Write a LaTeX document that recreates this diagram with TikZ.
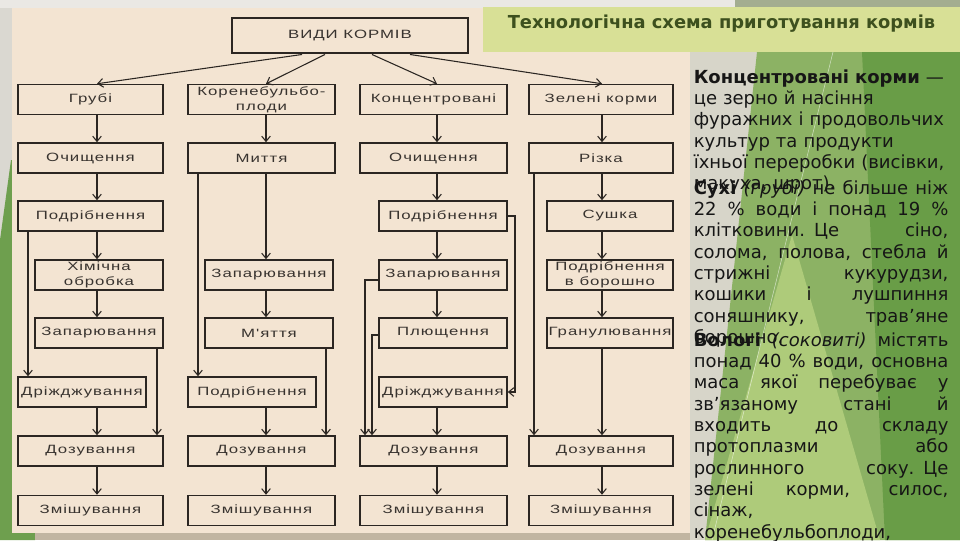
\documentclass[tikz,border=0pt]{standalone}
\usepackage{fontspec}
\usetikzlibrary{arrows.meta}
\newfontfamily\boxfont[FakeStretch=1.4,LetterSpace=8]{Liberation Sans}
\newfontfamily\txtfont{DejaVu Sans}
\definecolor{pagebg}{HTML}{EAE8E4}
\definecolor{panelbg}{HTML}{F3E4D2}
\definecolor{linec}{HTML}{2B2622}
\definecolor{boxtxt}{HTML}{38332F}
\definecolor{barbg}{HTML}{D8E096}
\definecolor{titlec}{HTML}{3D501E}
\definecolor{bandc}{HTML}{C1B5A1}
\definecolor{paleR}{HTML}{D7D5C9}
\definecolor{greenM}{HTML}{8CB264}
\definecolor{greenL}{HTML}{AECB7A}
\definecolor{greenD}{HTML}{699D47}
\definecolor{leftG}{HTML}{6E9F4E}
\definecolor{leftgrey}{HTML}{DAD8D1}
\definecolor{topgreen}{HTML}{A3AD90}
\definecolor{txtc}{HTML}{161616}
\newcommand\jl[1]{{\spaceskip=0.318em plus 1fil\relax\makebox[191pt][s]{#1}}\\}
\begin{document}
\begin{tikzpicture}[x=0.75pt,y=-0.75pt,
  box/.style={draw=linec,line width=1.1pt,fill=panelbg,inner sep=0pt,minimum height=22.5pt,align=center,text=boxtxt,font=\boxfont\fontsize{9}{11}\selectfont},
  wd/.style={minimum width=#1*0.75pt},
  conn/.style={draw=linec,line width=0.8pt,-{Straight Barb[length=4pt,width=6.5pt,line width=0.8pt]}},
  para/.style={anchor=base west,inner sep=0pt,text width=191pt,align=left,text=txtc,font=\txtfont\fontsize{13.5}{16}\selectfont}]
\useasboundingbox (0,0) rectangle (960,540);
% background
\fill[pagebg] (0,0) rectangle (960,540);
\fill[leftgrey] (0,8) rectangle (12,540);
\fill[leftG] (11,160) -- (12,160) -- (12,533) -- (35,533) -- (35,540) -- (0,540) -- (0,240) -- cycle;
\fill[topgreen] (735,0) rectangle (960,8);
\fill[bandc] (35,533) rectangle (690,540);
\fill[panelbg] (12,8) rectangle (690,533);
\fill[paleR] (690,8) rectangle (960,540);
\fill[greenM] (757,52) -- (960,52) -- (960,540) -- (705,540) -- cycle;
\fill[greenL] (792,235) -- (880,540) -- (705,540) -- cycle;
\fill[greenD] (862,52) -- (960,52) -- (960,540) -- (885,540) -- cycle;
\draw[white,opacity=0.6,line width=0.4pt] (833,52) -- (712,540);
\fill[barbg] (483,7) rectangle (960,52);
\node[anchor=base,inner sep=0pt,text=titlec,font=\txtfont\bfseries\fontsize{13.4}{16}\selectfont] (ttl) at (721.5,28.5) {Технологічна схема приготування кормів};
% columns
\coordinate (c1) at (97,0);
\coordinate (c2) at (266,0);
\coordinate (c3) at (437,0);
\coordinate (c4) at (602,0);
\coordinate (x1a) at (28,0);
\coordinate (x1b) at (157,0);
\coordinate (x2a) at (198,0);
\coordinate (x2b) at (326,0);
\coordinate (x3a) at (365,0);
\coordinate (x3b) at (372,0);
\coordinate (x3c) at (515,0);
\coordinate (x4a) at (534,0);
% boxes
\node[box,wd=236,minimum height=26.25pt,line width=2.2pt] (top) at (350,35.5) {ВИДИ КОРМІВ};
\node[box,wd=145] (g1) at (90.5,99.5) {Грубі};
\node[box,wd=147] (k2) at (261.5,99.5) {Коренебульбо-\\плоди};
\node[box,wd=147] (k3) at (433.5,99.5) {Концентровані};
\node[box,wd=144] (k4) at (601,99.5) {Зелені корми};
\node[box,wd=145] (o1) at (90.5,158) {Очищення};
\node[box,wd=147] (m2) at (261.5,158) {Миття};
\node[box,wd=147] (o3) at (433.5,158) {Очищення};
\node[box,wd=144] (r4) at (601,158) {Різка};
\node[box,wd=145] (p1) at (90.5,216) {Подрібнення};
\node[box,wd=128] (p3) at (443,216) {Подрібнення};
\node[box,wd=126] (s4) at (610,216) {Сушка};
\node[box,wd=128] (h1) at (99,275) {Хімічна\\обробка};
\node[box,wd=128] (z2) at (269,275) {Запарювання};
\node[box,wd=128] (z3) at (443,275) {Запарювання};
\node[box,wd=126] (b4) at (610,275) {Подрібнення\\в борошно};
\node[box,wd=128] (z1) at (99,333) {Запарювання};
\node[box,wd=128] (mj2) at (269,333) {М'яття};
\node[box,wd=128] (pl3) at (443,333) {Плющення};
\node[box,wd=126] (gr4) at (610,333) {Гранулювання};
\node[box,wd=128] (d1) at (82,392) {Дріжджування};
\node[box,wd=128] (pd2) at (252,392) {Подрібнення};
\node[box,wd=128] (d3) at (443,392) {Дріжджування};
\node[box,wd=145] (dz1) at (90.5,451) {Дозування};
\node[box,wd=147] (dz2) at (261.5,451) {Дозування};
\node[box,wd=147] (dz3) at (433.5,451) {Дозування};
\node[box,wd=144] (dz4) at (601,451) {Дозування};
\node[box,wd=145] (zm1) at (90.5,510.5) {Змішування};
\node[box,wd=147] (zm2) at (261.5,510.5) {Змішування};
\node[box,wd=147] (zm3) at (433.5,510.5) {Змішування};
\node[box,wd=144] (zm4) at (601,510.5) {Змішування};
% connectors from top
\draw[conn] ([xshift=-36pt]top.south) -- (g1.north -| c1);
\draw[conn] ([xshift=-18.75pt]top.south) -- (k2.north -| c2);
\draw[conn] ([xshift=16.5pt]top.south) -- (k3.north -| c3);
\draw[conn] ([xshift=45pt]top.south) -- (k4.north -| c4);
% vertical chains
\foreach \a/\b/\c in {g1/o1/c1,o1/p1/c1,p1/h1/c1,h1/z1/c1,d1/dz1/c1,dz1/zm1/c1,
  k2/m2/c2,m2/z2/c2,z2/mj2/c2,pd2/dz2/c2,dz2/zm2/c2,
  k3/o3/c3,o3/p3/c3,p3/z3/c3,z3/pl3/c3,d3/dz3/c3,dz3/zm3/c3,
  k4/r4/c4,r4/s4/c4,s4/b4/c4,b4/gr4/c4,gr4/dz4/c4,dz4/zm4/c4}
  \draw[conn] (\a.south -| \c) -- (\b.north -| \c);
% bypasses
\draw[conn] (p1.south -| x1a) -- (d1.north -| x1a);
\draw[conn] (z1.south -| x1b) -- (dz1.north -| x1b);
\draw[conn] (m2.south -| x2a) -- (pd2.north -| x2a);
\draw[conn] (mj2.south -| x2b) -- (dz2.north -| x2b);
\draw[conn] (p3.east) -- (p3.east -| x3c) |- (d3.east);
\draw[conn] ([yshift=-3.75pt]z3.west) -| (dz3.north -| x3a);
\draw[conn] ([yshift=-1.5pt]pl3.west) -| (dz3.north -| x3b);
\draw[conn] (r4.south -| x4a) -- (dz4.north -| x4a);
% text
\node[para] (t1) at (693.5,83) {\textbf{Концентровані корми} —\\це зерно й насіння\\фуражних і продовольчих\\культур та продукти\\їхньої переробки (висівки,\\макуха, шрот).};
\node[para] (t2) at (693.5,194) {\jl{\textbf{Сухі} \textit{(грубі)} не більше ніж}\jl{22 \% води і понад 19 \%}\jl{клітковини. Це сіно,}\jl{солома, полова, стебла й}\jl{стрижні кукурудзи,}\jl{кошики і лушпиння}\jl{соняшнику, трав’яне}борошно.};
\node[para] (t3) at (693.5,346) {\jl{\textbf{Вологі} \textit{(соковиті)} містять}\jl{понад 40 \% води, основна}\jl{маса якої перебуває у}\jl{зв’язаному стані й}\jl{входить до складу}\jl{протоплазми або}\jl{рослинного соку. Це}\jl{зелені корми, силос,}сінаж,\\коренебульбоплоди,};
\end{tikzpicture}
\end{document}
